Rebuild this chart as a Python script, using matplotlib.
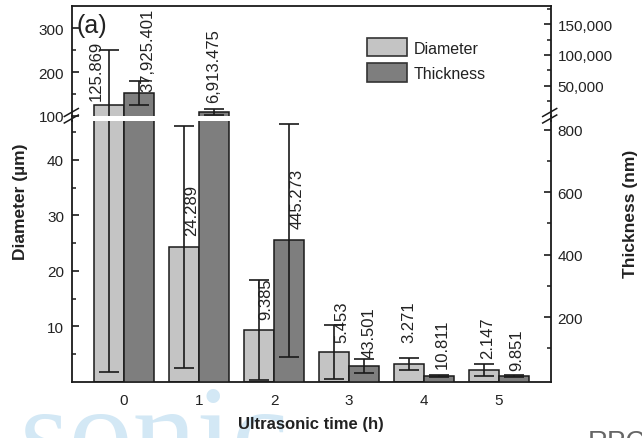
import matplotlib
matplotlib.use('Agg')
import matplotlib.pyplot as plt
from matplotlib.lines import Line2D
from matplotlib.patches import Patch
from matplotlib.ticker import FixedLocator, FuncFormatter

plt.rcParams['font.family'] = ['Liberation Sans', 'DejaVu Sans']

# data
hours = [0, 1, 2, 3, 4, 5]
diameter = [125.869, 24.289, 9.385, 5.453, 3.271, 2.147]            # um
diameter_err = [124.0, 21.8, 9.0, 4.85, 1.1, 1.1]
thickness = [37925.401, 6913.475, 445.273, 43.501, 10.811, 9.851]   # nm
thickness_err = [20000, 4500, 374, 23.5, 3, 3]

# label nudges in pixels (dx, gap above bar top)
d_dx = [-13, 8, 7, 8, 0, 4]
d_dy = [5, 12, 11, 10, 22, 12]
t_dx = [8.5, 0, 8, 5, 3, 2.5]
t_dy = [2, 10, 12, 9, 8, 6]

LIGHT = '#c4c4c4'
DARK = '#7e7e7e'
EDGE = '#1a1a1a'
TXT = '#222222'

W, H = 642, 439
fig = plt.figure(figsize=(W / 100, H / 100), dpi=100)


def fx(px):
    return px / W


def fy(py):
    return 1 - py / H


L, R = 72.3, 550.7
TOP, BRK_HI, BRK_LO, BOT = 7.3, 117, 122, 383

ax_top = fig.add_axes([fx(L), fy(BRK_HI), (R - L) / W, (BRK_HI - TOP) / H])
ax_bot = fig.add_axes([fx(L), fy(BOT), (R - L) / W, (BOT - BRK_LO) / H])
ax_top_r = ax_top.twinx()
ax_bot_r = ax_bot.twinx()

D_BREAK, T_BREAK = 47, 828
ax_top.set_ylim(100, 350)
ax_top_r.set_ylim(T_BREAK, 179000)
ax_bot.set_ylim(0, D_BREAK)
ax_bot_r.set_ylim(-8, T_BREAK)
T_BASE = -8

xd = [h - 0.2 for h in hours]
xt = [h + 0.2 for h in hours]
err_kw = dict(elinewidth=1.2, capthick=1.2, capsize=7, ecolor=EDGE)

# lower panel: everything (tall bars get clipped)
ax_bot.bar(xd, diameter, width=0.4, color=LIGHT, edgecolor=EDGE, linewidth=1.1,
           yerr=diameter_err, error_kw=err_kw)
ax_bot_r.bar(xt, [t - T_BASE for t in thickness], bottom=T_BASE, width=0.4,
             color=DARK, edgecolor=EDGE, linewidth=1.1,
             yerr=thickness_err, error_kw=err_kw)

# upper panel: only the bars that reach above the break
d_idx = [i for i, v in enumerate(diameter) if v > D_BREAK]
t_idx = [i for i, v in enumerate(thickness) if v > T_BREAK]
ax_top.bar([xd[i] for i in d_idx], [diameter[i] for i in d_idx], width=0.4,
           color=LIGHT, edgecolor=EDGE, linewidth=1.1,
           yerr=[diameter_err[i] for i in d_idx], error_kw=err_kw)
ax_top_r.bar([xt[i] for i in t_idx], [thickness[i] - T_BASE for i in t_idx],
             bottom=T_BASE, width=0.4, color=DARK, edgecolor=EDGE,
             linewidth=1.1, yerr=[thickness_err[i] for i in t_idx],
             error_kw=err_kw)

for ax in (ax_top, ax_bot):
    ax.set_xlim(-0.69, 5.69)

# value labels
for x, v, dx, dy in zip(xd, diameter, d_dx, d_dy):
    ax = ax_bot if v < D_BREAK else ax_top
    ax.annotate(f'{v:,.3f}', (x, v), xytext=(dx * 0.72, dy * 0.72),
                textcoords='offset points', rotation=90, ha='center',
                va='bottom', fontsize=12, color=TXT)
for x, v, dx, dy in zip(xt, thickness, t_dx, t_dy):
    ax = ax_bot_r if v < T_BREAK else ax_top_r
    ax.annotate(f'{v:,.3f}', (x, v), xytext=(dx * 0.72, dy * 0.72),
                textcoords='offset points', rotation=90, ha='center',
                va='bottom', fontsize=12, color=TXT)

# ticks and spines
ax_top.yaxis.set_major_locator(FixedLocator([100, 200, 300]))
ax_top.yaxis.set_minor_locator(FixedLocator([150, 250]))
ax_bot.yaxis.set_major_locator(FixedLocator([10, 20, 30, 40]))
ax_bot.yaxis.set_minor_locator(FixedLocator([5, 15, 25, 35, 45]))
ax_top_r.yaxis.set_major_locator(FixedLocator([50000, 100000, 150000]))
ax_top_r.yaxis.set_minor_locator(FixedLocator([25000, 75000, 125000, 175000]))
ax_top_r.yaxis.set_major_formatter(FuncFormatter(lambda v, p: f'{v:,.0f}'))
ax_bot_r.yaxis.set_major_locator(FixedLocator([200, 400, 600, 800]))
ax_bot_r.yaxis.set_minor_locator(FixedLocator([100, 300, 500, 700]))

for ax in (ax_top, ax_bot, ax_top_r, ax_bot_r):
    ax.tick_params(axis='y', which='major', direction='in', length=5, width=1.2,
                   labelsize=11, labelcolor=TXT, pad=6, color=EDGE)
    ax.tick_params(axis='y', which='minor', direction='in', length=3, width=1.1,
                   color=EDGE)
    for s in ax.spines.values():
        s.set_linewidth(1.3)
        s.set_color(EDGE)

for ax in (ax_top, ax_bot):
    ax.spines['right'].set_visible(False)
for ax in (ax_top_r, ax_bot_r):
    for s in ('left', 'top', 'bottom'):
        ax.spines[s].set_visible(False)
    ax.tick_params(axis='y', which='major', pad=5)
ax_top.spines['bottom'].set_visible(False)
ax_bot.spines['top'].set_visible(False)

ax_top.tick_params(axis='x', bottom=False, labelbottom=False)
ax_bot.tick_params(axis='x', length=0, labelsize=11, labelcolor=TXT, pad=8)
ax_bot.set_xticks(hours)
ax_bot.set_xticklabels([str(h) for h in hours])

# spine pieces across the gap and break marks
for xs in (L, R):
    fig.add_artist(Line2D([fx(xs), fx(xs)], [fy(BRK_HI), fy(BRK_LO)],
                          color=EDGE, lw=1.3))
    for yc in (113.5, 120):
        fig.add_artist(Line2D([fx(xs - 8), fx(xs + 6)], [fy(yc + 4), fy(yc - 4)],
                              color=EDGE, lw=1.1))

# legend
handles = [Patch(facecolor=LIGHT, edgecolor='#333333', linewidth=1.2),
           Patch(facecolor=DARK, edgecolor='#333333', linewidth=1.2)]
fig.legend(handles, ['Diameter', 'Thickness'], loc='upper left',
           bbox_to_anchor=(fx(367), fy(39)), frameon=False, borderpad=0,
           borderaxespad=0, handlelength=2.5, handleheight=1.4,
           labelspacing=0.42, handletextpad=0.45, fontsize=11.5,
           labelcolor=TXT)

# axis titles and panel tag
fig.text(fx(77), fy(26), '(a)', fontsize=18, color=TXT, va='center', ha='left')
fig.text(fx(21), fy(202), 'Diameter (\u00b5m)', rotation=90, fontsize=12.5,
         fontweight='bold', ha='center', va='center', color=TXT)
fig.text(fx(630), fy(214), 'Thickness (nm)', rotation=90, fontsize=12.5,
         fontweight='bold', ha='center', va='center', color=TXT)

# page watermark bits visible in the scan
fig.text(fx(20), fy(474), 'sonic', fontsize=92, family='Liberation Serif',
         color='#d3e8f5', va='baseline', ha='left', zorder=0)
fig.text(fx(588), fy(450), 'RPC', fontsize=20, color='#666666', va='baseline',
         ha='left', zorder=0)

fig.text(fx(311), fy(425), 'Ultrasonic time (h)', fontsize=12,
         fontweight='bold', ha='center', va='center', color=TXT, zorder=5)

fig.savefig('out.png', dpi=100)
